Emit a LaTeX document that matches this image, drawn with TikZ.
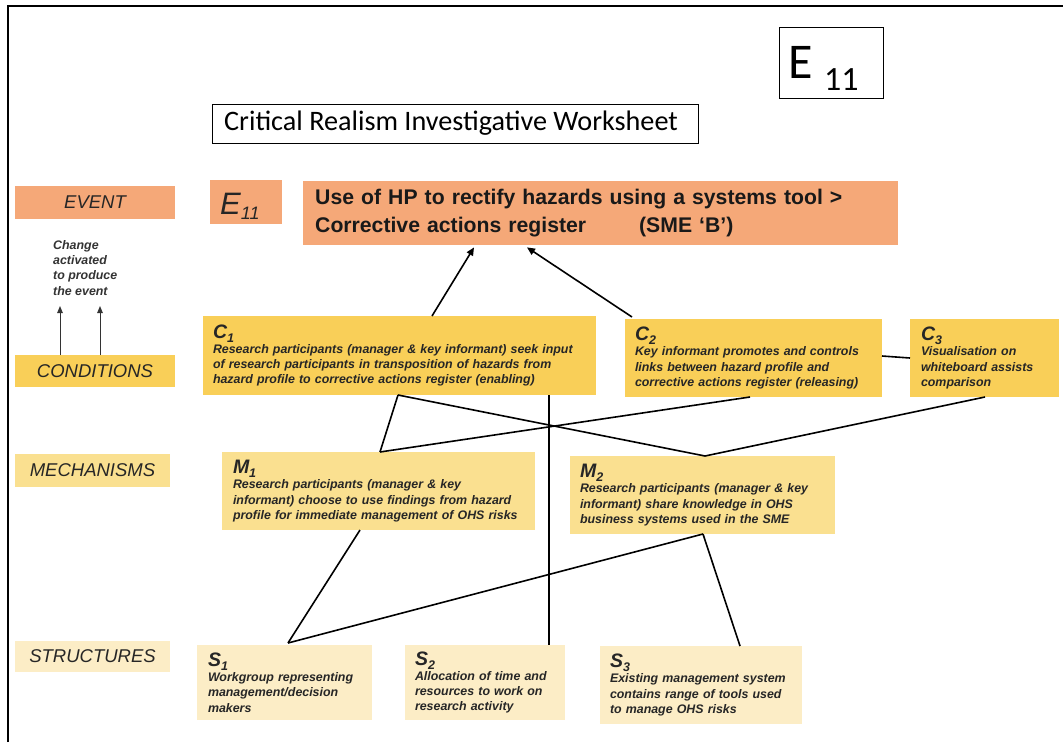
\documentclass[tikz,border=0pt]{standalone}
\usepackage{fontspec}
\setmainfont{Liberation Sans}
\newfontfamily\calib{Carlito}
\usetikzlibrary{arrows.meta,calc}

\definecolor{evcol}{HTML}{F5A878}
\definecolor{cdcol}{HTML}{F9CF58}
\definecolor{mhcol}{HTML}{FAE090}
\definecolor{stcol}{HTML}{FCEDC6}

% bold italic heading with a lowered index, e.g. C_1
\newcommand\itemhead[2]{{\fontsize{19.5}{19.5}\selectfont #1\raisebox{-0.22em}{\fontsize{12.5}{12.5}\selectfont #2}}}

\begin{document}
\begin{tikzpicture}[x=1pt,y=-1pt,
  rowlabel/.style={anchor=north west, inner sep=0pt, outer sep=0pt},
  rowtext/.style={font=\fontsize{18.5}{18.5}\selectfont\itshape, text=black!85},
  itembox/.style={anchor=north west, inner ysep=0pt, inner xsep=10pt, outer sep=0pt,
    align=left, font=\fontsize{12.4}{15.3}\selectfont\bfseries\itshape, text=black!85},
  conn/.style={line width=1.6pt, black},
  arr/.style={conn, -{Triangle[length=8pt,width=7pt]}},
  smallarr/.style={line width=1pt, black!80, -{Triangle[length=7pt,width=5.5pt]}}
]
\useasboundingbox (0,0) rectangle (1063,742);
\fill[white] (0,0) rectangle (1063,742);

% page frame
\coordinate (frameBL) at (8,742);
\coordinate (frameTL) at (8,6);
\coordinate (frameTR) at (1063,6);
\draw[line width=2pt] (frameBL) -- (frameTL) -- (frameTR);

% heading boxes
\node[draw, line width=0.8pt, anchor=north west, minimum width=104, minimum height=71, inner sep=0pt]
  (code) at (779,27) {};
\node[anchor=base west, inner sep=0pt, font=\calib\fontsize{50}{50}\selectfont] (codeE) at (788,78) {E};
\node[anchor=base west, inner sep=0pt, font=\calib\fontsize{34}{34}\selectfont] (codeN) at (824,90) {11};

\node[draw, line width=0.8pt, anchor=north west, minimum width=486, minimum height=39, inner sep=0pt]
  (title) at (212,104) {};
\node[anchor=west, inner sep=0pt, font=\calib\fontsize{28.2}{28.2}\selectfont] (titletext) at (224,123.5)
  {Critical Realism Investigative Worksheet};

% row labels
\node[rowlabel, fill=evcol, minimum width=160, minimum height=33] (rEvent) at (15,186) {};
\node[rowtext] at (rEvent) {EVENT};
\node[rowlabel, fill=cdcol, minimum width=160, minimum height=32] (rCond) at (15,355) {};
\node[rowtext] at (rCond) {CONDITIONS};
\node[rowlabel, fill=mhcol, minimum width=155, minimum height=33] (rMech) at (15,454) {};
\node[rowtext] at (rMech) {MECHANISMS};
\node[rowlabel, fill=stcol, minimum width=155, minimum height=31] (rStruct) at (15,641) {};
\node[rowtext] at (rStruct) {STRUCTURES};

\node[anchor=north west, inner sep=0pt, align=left,
  font=\fontsize{12.4}{15.3}\selectfont\bfseries\itshape, text=black!80] (change) at (53,240)
  {Change\\activated\\to produce\\the event};
\coordinate (upA) at (60,306);
\coordinate (upB) at (100,306);
\draw[smallarr] (rCond.north west -| upA) -- (upA);
\draw[smallarr] (rCond.north west -| upB) -- (upB);

% event
\node[anchor=north west, fill=evcol, minimum width=72, minimum height=44, inner sep=0pt] (eSmall) at (210,180) {};
\node[anchor=base west, inner sep=0pt, font=\fontsize{31}{31}\selectfont\itshape, text=black!85] (eSmallT) at (220,214)
  {E\raisebox{-0.18em}{\fontsize{18}{18}\selectfont 11}};

\node[anchor=north west, fill=evcol, minimum width=595, minimum height=64, inner xsep=12pt, inner ysep=0pt,
  text width=571, align=left, font=\fontsize{21.2}{28}\selectfont\bfseries, text=black!90] (event) at (303,181)
  {Use of HP to rectify hazards using a systems tool >\\Corrective actions register\hspace{53pt}(SME ‘B’)};

% conditions
\node[itembox, fill=cdcol, text width=373, minimum height=79] (c1) at (203,316)
  {\itemhead{C}{1}\\Research participants (manager \& key informant) seek input\\of research participants in transposition of hazards from\\hazard profile to corrective actions register (enabling)};
\node[itembox, fill=cdcol, text width=237, minimum height=78] (c2) at (625,319)
  {\itemhead{C}{2}\\Key informant promotes and controls\\links between hazard profile and\\corrective actions register (releasing)};
\node[itembox, fill=cdcol, text width=127, inner xsep=11pt, minimum height=78] (c3) at (910,319)
  {\itemhead{C}{3}\\Visualisation on\\whiteboard assists\\comparison};

% mechanisms
\node[itembox, fill=mhcol, text width=291, inner xsep=11pt, minimum height=78] (m1) at (222,452)
  {\itemhead{M}{1}\\Research participants (manager \& key\\informant) choose to use findings from hazard\\profile for immediate management of OHS risks};
\node[itembox, fill=mhcol, text width=245, minimum height=78] (m2) at (570,456)
  {\itemhead{M}{2}\\Research participants (manager \& key\\informant) share knowledge in OHS\\business systems used in the SME};

% structures
\node[itembox, fill=stcol, text width=153, inner xsep=11pt, minimum height=75] (s1) at (197,645)
  {\itemhead{S}{1}\\Workgroup representing\\management/decision\\makers};
\node[itembox, fill=stcol, text width=140, minimum height=75] (s2) at (405,645)
  {\itemhead{S}{2}\\Allocation of time and\\resources to work on\\research activity};
\node[itembox, fill=stcol, text width=182, minimum height=78] (s3) at (600,646)
  {\itemhead{S}{3}\\Existing management system\\contains range of tools used\\to manage OHS risks};

% connectors
\draw[arr] ($(c1.north west)+(229,0)$) -- ($(event.south west)+(171,2)$);
\draw[arr] ($(c2.north west)+(7,-2)$) -- ($(event.south west)+(224,2)$);
\draw[conn] ($(c2.north east)+(0,37)$) -- ($(c3.north west)+(0,39)$);

\draw[conn] ($(c1.south west)+(195,0)$) -- ($(m1.north west)+(158,0)$);
\draw[conn] ($(c1.south west)+(195,0)$) -- ($(m2.north west)+(135,0)$);
\draw[conn] ($(m1.north west)+(158,0)$) -- ($(c2.south west)+(125,0)$);
\draw[conn] ($(m2.north west)+(135,0)$) -- ($(c3.south west)+(75,0)$);
\draw[conn] ($(c1.south west)+(346,0)$) -- ($(s2.north west)+(144,0)$);

\draw[conn] ($(m1.south west)+(138,0)$) -- ($(s1.north west)+(91,-2)$);
\draw[conn] ($(s1.north west)+(91,-2)$) -- ($(m2.south west)+(133,0)$);
\draw[conn] ($(m2.south west)+(133,0)$) -- ($(s3.north west)+(140,0)$);
\end{tikzpicture}
\end{document}
